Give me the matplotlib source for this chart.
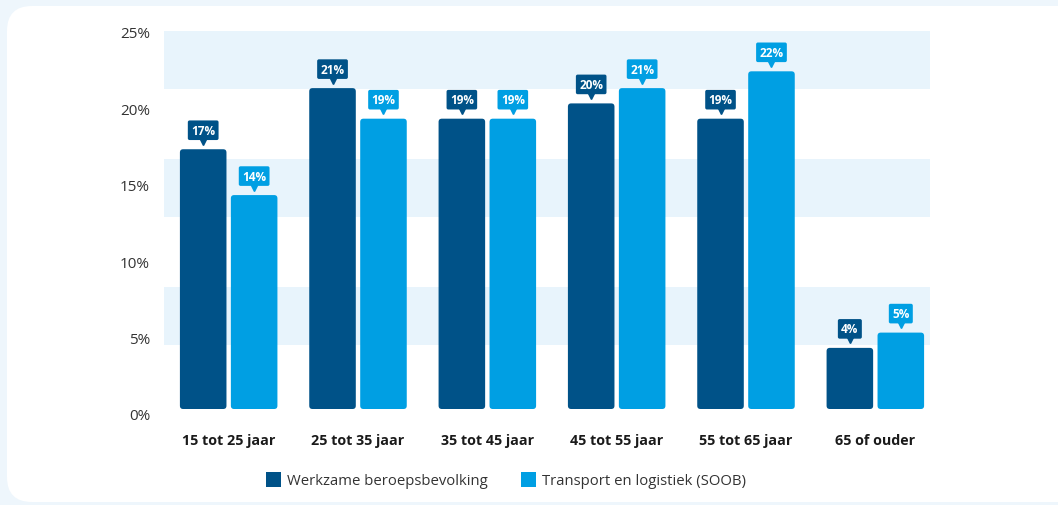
import numpy as np
import matplotlib
matplotlib.use("Agg")
import matplotlib.pyplot as plt
from matplotlib.patches import FancyBboxPatch
from matplotlib.transforms import blended_transform_factory, offset_copy

categories = ["15 tot 25 jaar", "25 tot 35 jaar", "35 tot 45 jaar",
              "45 tot 55 jaar", "55 tot 65 jaar", "65 of ouder"]
werkzaam = [17.0, 21.0, 19.0, 20.0, 19.0, 4.0]
transport = [14.0, 19.0, 19.0, 21.0, 22.1, 5.0]
labels_werkzaam = ["17%", "21%", "19%", "20%", "19%", "4%"]
labels_transport = ["14%", "19%", "19%", "21%", "22%", "5%"]
series_names = ["Werkzame beroepsbevolking", "Transport en logistiek (SOOB)"]
yticks = [0, 5, 10, 15, 20, 25]

dark = "#005288"
light = "#009fe3"
band = "#e8f4fc"

plt.rcParams['font.family'] = ['Open Sans', 'DejaVu Sans']

fig = plt.figure(figsize=(10.58, 5.06), dpi=100)
fig.patch.set_facecolor("#eef6fc")
card = FancyBboxPatch((0.07, 0.03), 11.0, 4.96, boxstyle="round,pad=0,rounding_size=0.25",
                      transform=fig.dpi_scale_trans, fc="white", ec="none", zorder=-10)
fig.patches.append(card)

ax = fig.add_axes([164 / 1058, 1 - 410 / 506, 776 / 1058, 382 / 506])
ax.set_zorder(1)
ax.set_facecolor("none")
ax.set_xlim(-0.5, 5.5)
ax.set_ylim(0, 25)

# light stripes behind the bars
for lo, hi in [(20.94, 24.74), (12.57, 16.36), (4.19, 7.98)]:
    ax.axhspan(lo, hi, xmin=0, xmax=0.987, color=band, lw=0, zorder=0)

x = np.arange(len(categories))
off = 0.197
w = 0.36
aspect = 129.4 / 15.28

def draw_bars(xs, vals, color):
    for xi, v in zip(xs, vals):
        p = FancyBboxPatch((xi - w / 2, 0), w, v, boxstyle="round,pad=0,rounding_size=0.025",
                           mutation_aspect=aspect, fc=color, ec="none", zorder=2)
        ax.add_patch(p)

def draw_labels(xs, vals, texts, color):
    tri = offset_copy(ax.transData, fig=fig, x=0, y=7.5, units='dots')
    for xi, v, t in zip(xs, vals, texts):
        ax.plot(xi, v, marker='v', ms=4.5, color=color, transform=tri, zorder=3, clip_on=False)
        ax.annotate(t, (xi, v), xytext=(0, 19), textcoords='offset pixels',
                    ha='center', va='center', color='white', fontsize=8.5, fontweight='bold',
                    bbox=dict(boxstyle="round,pad=0.28,rounding_size=0.15", fc=color, ec="none"),
                    zorder=4)

draw_bars(x - off, werkzaam, dark)
draw_bars(x + off, transport, light)
draw_labels(x - off, werkzaam, labels_werkzaam, dark)
draw_labels(x + off, transport, labels_transport, light)

ax.set_xticks(x)
ax.set_xticklabels(categories, fontsize=10.3, fontweight='bold', color="#1a1a1a")
ax.tick_params(axis='x', length=0, pad=17)

# y labels sit a little below their gridline in the original
ax.set_yticks([])
ytr = offset_copy(blended_transform_factory(ax.transAxes, ax.transData), fig=fig,
                  x=-14, y=-7, units='dots')
for t in yticks:
    ax.text(0, t, f"{t}%", transform=ytr, ha='right', va='center', fontsize=11, color="#333333")

for s in ax.spines.values():
    s.set_visible(False)

handles = [plt.Rectangle((0, 0), 1, 1, fc=dark), plt.Rectangle((0, 0), 1, 1, fc=light)]
fig.legend(handles, series_names, loc='center', bbox_to_anchor=(506 / 1058, 1 - 481 / 506),
           ncol=2, frameon=False, fontsize=10.7, handlelength=1.0, handleheight=1.2,
           handletextpad=0.45, columnspacing=2.2, labelcolor="#333333")

fig.savefig("out.png", dpi=100, facecolor=fig.get_facecolor())
